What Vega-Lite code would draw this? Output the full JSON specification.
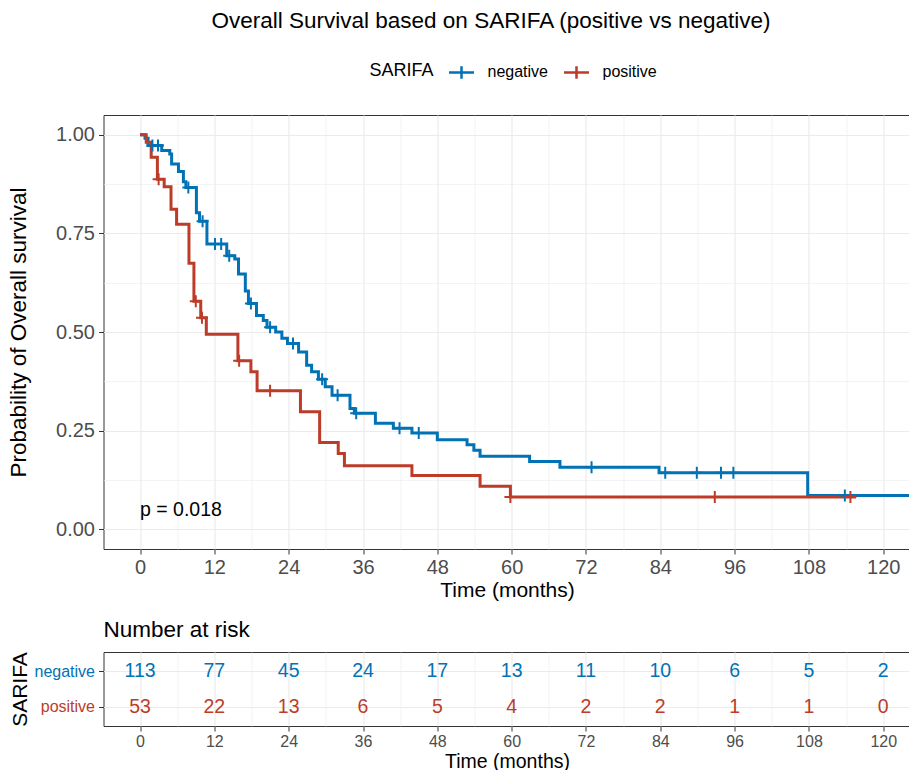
{
  "$schema": "https://vega.github.io/schema/vega-lite/v6.json",
  "background": "white",
  "padding": {"left": 6.5, "top": 10, "right": 0, "bottom": 2},
  "config": {
    "font": "Liberation Sans",
    "view": {"stroke": "#333333", "strokeWidth": 1},
    "axis": {"domain": false, "tickColor": "#333333", "tickSize": 5, "labelColor": "#4D4D4D", "titleColor": "black", "titleFontWeight": "normal", "gridColor": "#EBEBEB"}
  },
  "title": {"text": "Overall Survival based on SARIFA (positive vs negative)", "fontSize": 22.5, "fontWeight": "normal", "anchor": "middle", "dx": 32, "offset": 25, "color": "black"},
  "datasets": {
    "surv": [
      {"series": "negative", "t": 0, "s": 1.0},
      {"series": "negative", "t": 0.8, "s": 0.991},
      {"series": "negative", "t": 1.3, "s": 0.973},
      {"series": "negative", "t": 3.5, "s": 0.960},
      {"series": "negative", "t": 4.8, "s": 0.951},
      {"series": "negative", "t": 5.1, "s": 0.926},
      {"series": "negative", "t": 6.2, "s": 0.907},
      {"series": "negative", "t": 7.0, "s": 0.881},
      {"series": "negative", "t": 7.4, "s": 0.866},
      {"series": "negative", "t": 9.1, "s": 0.802},
      {"series": "negative", "t": 9.6, "s": 0.781},
      {"series": "negative", "t": 10.8, "s": 0.723},
      {"series": "negative", "t": 14.0, "s": 0.693},
      {"series": "negative", "t": 15.3, "s": 0.685},
      {"series": "negative", "t": 15.9, "s": 0.647},
      {"series": "negative", "t": 17.0, "s": 0.604},
      {"series": "negative", "t": 17.5, "s": 0.572},
      {"series": "negative", "t": 18.8, "s": 0.542},
      {"series": "negative", "t": 19.9, "s": 0.529},
      {"series": "negative", "t": 20.5, "s": 0.512},
      {"series": "negative", "t": 21.9, "s": 0.500},
      {"series": "negative", "t": 22.9, "s": 0.484},
      {"series": "negative", "t": 23.8, "s": 0.471},
      {"series": "negative", "t": 25.6, "s": 0.449},
      {"series": "negative", "t": 26.9, "s": 0.416},
      {"series": "negative", "t": 27.7, "s": 0.399},
      {"series": "negative", "t": 28.8, "s": 0.380},
      {"series": "negative", "t": 29.9, "s": 0.361},
      {"series": "negative", "t": 31.0, "s": 0.340},
      {"series": "negative", "t": 33.9, "s": 0.306},
      {"series": "negative", "t": 34.6, "s": 0.294},
      {"series": "negative", "t": 38.0, "s": 0.269},
      {"series": "negative", "t": 40.9, "s": 0.256},
      {"series": "negative", "t": 43.9, "s": 0.244},
      {"series": "negative", "t": 48.0, "s": 0.227},
      {"series": "negative", "t": 52.8, "s": 0.214},
      {"series": "negative", "t": 53.9, "s": 0.200},
      {"series": "negative", "t": 54.9, "s": 0.185},
      {"series": "negative", "t": 62.9, "s": 0.172},
      {"series": "negative", "t": 67.8, "s": 0.157},
      {"series": "negative", "t": 83.8, "s": 0.143},
      {"series": "negative", "t": 107.8, "s": 0.0857},
      {"series": "negative", "t": 124.4, "s": 0.0857},
      {"series": "positive", "t": 0, "s": 1.0},
      {"series": "positive", "t": 1.0, "s": 0.981},
      {"series": "positive", "t": 1.8, "s": 0.943},
      {"series": "positive", "t": 2.8, "s": 0.887},
      {"series": "positive", "t": 3.9, "s": 0.868},
      {"series": "positive", "t": 5.0, "s": 0.811},
      {"series": "positive", "t": 5.9, "s": 0.773},
      {"series": "positive", "t": 7.9, "s": 0.674},
      {"series": "positive", "t": 8.7, "s": 0.578},
      {"series": "positive", "t": 9.8, "s": 0.536},
      {"series": "positive", "t": 10.7, "s": 0.494},
      {"series": "positive", "t": 15.8, "s": 0.427},
      {"series": "positive", "t": 17.9, "s": 0.399},
      {"series": "positive", "t": 18.9, "s": 0.351},
      {"series": "positive", "t": 25.9, "s": 0.298},
      {"series": "positive", "t": 29.0, "s": 0.220},
      {"series": "positive", "t": 32.0, "s": 0.192},
      {"series": "positive", "t": 33.0, "s": 0.161},
      {"series": "positive", "t": 43.9, "s": 0.136},
      {"series": "positive", "t": 54.9, "s": 0.109},
      {"series": "positive", "t": 59.8, "s": 0.082},
      {"series": "positive", "t": 115.6, "s": 0.082}
    ],
    "censor": [
      {"series": "negative", "t": 2.0, "s": 0.973},
      {"series": "negative", "t": 2.9, "s": 0.973},
      {"series": "negative", "t": 7.8, "s": 0.866},
      {"series": "negative", "t": 10.1, "s": 0.781},
      {"series": "negative", "t": 12.1, "s": 0.723},
      {"series": "negative", "t": 13.1, "s": 0.723},
      {"series": "negative", "t": 14.4, "s": 0.693},
      {"series": "negative", "t": 17.9, "s": 0.572},
      {"series": "negative", "t": 21.0, "s": 0.512},
      {"series": "negative", "t": 24.7, "s": 0.471},
      {"series": "negative", "t": 29.4, "s": 0.380},
      {"series": "negative", "t": 31.9, "s": 0.340},
      {"series": "negative", "t": 34.9, "s": 0.294},
      {"series": "negative", "t": 41.9, "s": 0.256},
      {"series": "negative", "t": 45.0, "s": 0.244},
      {"series": "negative", "t": 72.9, "s": 0.157},
      {"series": "negative", "t": 84.8, "s": 0.143},
      {"series": "negative", "t": 89.9, "s": 0.143},
      {"series": "negative", "t": 93.8, "s": 0.143},
      {"series": "negative", "t": 95.8, "s": 0.143},
      {"series": "negative", "t": 113.8, "s": 0.0857},
      {"series": "positive", "t": 3.0, "s": 0.887},
      {"series": "positive", "t": 9.0, "s": 0.578},
      {"series": "positive", "t": 10.0, "s": 0.536},
      {"series": "positive", "t": 16.0, "s": 0.427},
      {"series": "positive", "t": 21.0, "s": 0.351},
      {"series": "positive", "t": 59.8, "s": 0.082},
      {"series": "positive", "t": 92.8, "s": 0.082},
      {"series": "positive", "t": 114.7, "s": 0.082}
    ],
    "risk": [
      {"series": "negative", "t": 0, "n": 113},
      {"series": "negative", "t": 12, "n": 77},
      {"series": "negative", "t": 24, "n": 45},
      {"series": "negative", "t": 36, "n": 24},
      {"series": "negative", "t": 48, "n": 17},
      {"series": "negative", "t": 60, "n": 13},
      {"series": "negative", "t": 72, "n": 11},
      {"series": "negative", "t": 84, "n": 10},
      {"series": "negative", "t": 96, "n": 6},
      {"series": "negative", "t": 108, "n": 5},
      {"series": "negative", "t": 120, "n": 2},
      {"series": "positive", "t": 0, "n": 53},
      {"series": "positive", "t": 12, "n": 22},
      {"series": "positive", "t": 24, "n": 13},
      {"series": "positive", "t": 36, "n": 6},
      {"series": "positive", "t": 48, "n": 5},
      {"series": "positive", "t": 60, "n": 4},
      {"series": "positive", "t": 72, "n": 2},
      {"series": "positive", "t": 84, "n": 2},
      {"series": "positive", "t": 96, "n": 1},
      {"series": "positive", "t": 108, "n": 1},
      {"series": "positive", "t": 120, "n": 0}
    ],
    "pval": [{"t": 0, "s": 0.05, "label": "p = 0.018"}]
  },
  "spacing": 17,
  "resolve": {"scale": {"color": "independent"}, "legend": {"color": "independent"}},
  "vconcat": [
    {
      "width": 807,
      "height": 434,
      "layer": [
        {
          "data": {"name": "surv"},
          "mark": {"type": "line", "interpolate": "step-after", "strokeWidth": 3, "clip": true},
          "encoding": {
            "x": {"field": "t", "type": "quantitative",
              "scale": {"domain": [-5.9, 124.4], "nice": false, "zero": false},
              "axis": {"title": "Time (months)", "values": [0,6,12,18,24,30,36,42,48,54,60,66,72,78,84,90,96,102,108,114,120],
                "labelExpr": "datum.value % 12 === 0 ? datum.label : ''",
                "gridWidth": {"condition": {"test": "datum.value % 12 === 0", "value": 1.2}, "value": 0.6},
                "tickOpacity": {"condition": {"test": "datum.value % 12 === 0", "value": 1}, "value": 0},
                "labelFontSize": 20, "titleFontSize": 21, "labelPadding": 3, "titlePadding": 2}},
            "y": {"field": "s", "type": "quantitative",
              "scale": {"domain": [-0.05, 1.05], "nice": false, "zero": false},
              "axis": {"title": "Probability of Overall survival", "values": [0,0.125,0.25,0.375,0.5,0.625,0.75,0.875,1],
                "labelExpr": "datum.value % 0.25 === 0 ? format(datum.value, '.2f') : ''",
                "gridWidth": {"condition": {"test": "datum.value % 0.25 === 0", "value": 1.2}, "value": 0.6},
                "tickOpacity": {"condition": {"test": "datum.value % 0.25 === 0", "value": 1}, "value": 0},
                "labelFontSize": 20, "labelPadding": 4, "titleFontSize": 22.5, "minExtent": 70, "maxExtent": 70, "titlePadding": 3}},
            "color": {"field": "series", "type": "nominal",
              "scale": {"domain": ["negative", "positive"], "range": ["#0072B5", "#BC3C29"]},
              "legend": {"title": "SARIFA", "orient": "none", "legendX": 266, "legendY": -57, "direction": "horizontal",
                "titleOrient": "left", "titleFontSize": 18, "titleFontWeight": "normal", "titleColor": "black",
                "labelFontSize": 16, "labelColor": "black", "symbolType": "M-1,0H1M0,-0.5V0.5", "symbolSize": 625,
                "symbolStrokeWidth": 2.5, "columnPadding": 10, "labelOffset": 12, "titlePadding": 13}}
          }
        },
        {
          "data": {"name": "censor"},
          "mark": {"type": "point", "shape": "M-1,0H1M0,-1V1", "filled": false, "strokeWidth": 2, "size": 144, "opacity": 1},
          "encoding": {
            "x": {"field": "t", "type": "quantitative"},
            "y": {"field": "s", "type": "quantitative"},
            "color": {"field": "series", "type": "nominal"}
          }
        },
        {
          "data": {"name": "pval"},
          "mark": {"type": "text", "align": "left", "baseline": "middle", "fontSize": 19.5, "color": "black"},
          "encoding": {
            "x": {"field": "t", "type": "quantitative"},
            "y": {"field": "s", "type": "quantitative"},
            "text": {"field": "label"}
          }
        }
      ]
    },
    {
      "width": 807,
      "height": 74,
      "title": {"text": "Number at risk", "anchor": "start", "frame": "group", "fontSize": 22.5, "fontWeight": "normal", "offset": 10, "color": "black"},
      "data": {"name": "risk"},
      "mark": {"type": "text", "fontSize": 19.5},
      "encoding": {
        "x": {"field": "t", "type": "quantitative",
          "scale": {"domain": [-5.9, 124.4], "nice": false, "zero": false},
          "axis": {"title": "Time (months)", "values": [0,6,12,18,24,30,36,42,48,54,60,66,72,78,84,90,96,102,108,114,120],
            "labelExpr": "datum.value % 12 === 0 ? datum.label : ''",
            "gridWidth": {"condition": {"test": "datum.value % 12 === 0", "value": 1.2}, "value": 0.6},
            "tickOpacity": {"condition": {"test": "datum.value % 12 === 0", "value": 1}, "value": 0},
            "labelFontSize": 16, "titleFontSize": 19.5, "labelPadding": 2, "titlePadding": 3}},
        "y": {"field": "series", "type": "nominal",
          "scale": {"type": "point", "padding": 0.557, "domain": ["negative", "positive"]},
          "axis": {"title": "SARIFA", "grid": true, "gridWidth": 1.2, "labelFontSize": 16, "labelPadding": 4, "titleFontSize": 21,
            "labelColor": {"condition": {"test": "datum.value === 'negative'", "value": "#0072B5"}, "value": "#BC3C29"},
            "minExtent": 70, "maxExtent": 70, "titlePadding": 3}},
        "color": {"field": "series", "type": "nominal",
          "scale": {"domain": ["negative", "positive"], "range": ["#0072B5", "#BC3C29"]}, "legend": null},
        "text": {"field": "n", "type": "quantitative"}
      }
    }
  ]
}
